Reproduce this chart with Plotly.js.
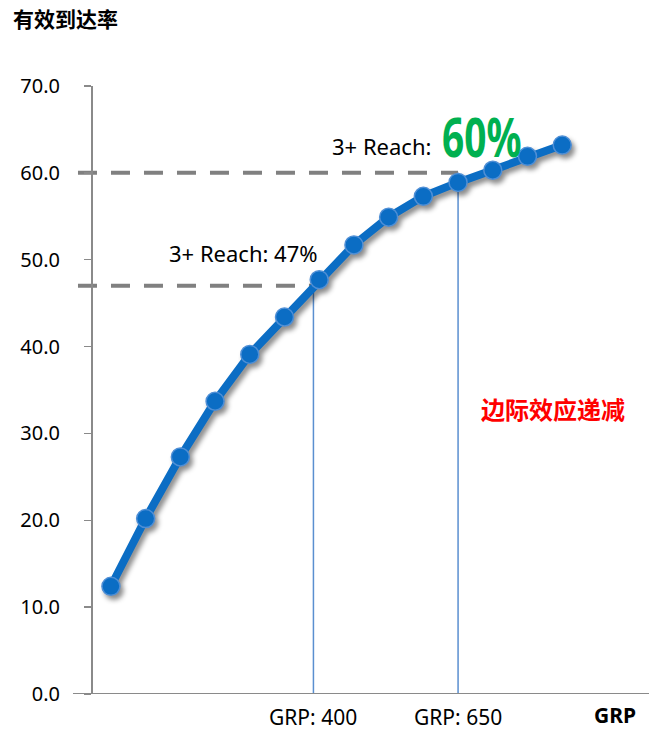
<!DOCTYPE html>
<html>
<head>
<meta charset="utf-8">
<script src="https://cdn.plot.ly/plotly-3.0.1.min.js"></script>
<style>
  html, body { margin: 0; padding: 0; background: #ffffff; }
  #chart { width: 649px; height: 731px; }
</style>
</head>
<body>
<div id="chart"></div>
<script>
// GRP levels of each plotted point and the 3+ reach (%) at that level
const grp = [50, 110, 170, 230, 290, 350, 410, 470, 530, 590, 650, 710, 770, 830];
const reach = [12.4, 20.2, 27.3, 33.7, 39.1, 43.4, 47.7, 51.7, 54.9, 57.3, 58.9, 60.3, 61.9, 63.2];

// Reference GRP levels called out with guide lines, and the reach they deliver
const refGrp = [400, 650];
const refReach = [47, 60];
const refGrpLabels = ['GRP: 400', 'GRP: 650'];

// Y axis ticks
const yTicks = [0, 10, 20, 30, 40, 50, 60, 70];
const yTickLabels = ['0.0', '10.0', '20.0', '30.0', '40.0', '50.0', '60.0', '70.0'];

const xRange = [19, 980];
const toPaperX = g => (g - xRange[0]) / (xRange[1] - xRange[0]);

const latin = '"Noto Sans", "Open Sans", sans-serif';
const cjk = '"Noto Sans CJK SC", "Noto Sans", sans-serif';
const axisGray = '#8a8a8a';
const curveBlue = '#0b6dc4';
const guideBlue = '#5a8fd0';
const dashGray = '#808080';

const trace = {
  type: 'scatter',
  mode: 'lines+markers',
  x: grp,
  y: reach,
  line: { color: curveBlue, width: 8 },
  marker: { size: 18, color: curveBlue, line: { color: '#4f8fd6', width: 1.5 } },
  hoverinfo: 'x+y'
};

const shapes = [];
refGrp.forEach((g, i) => {
  // horizontal dashed guide, starting just left of the y axis
  shapes.push({
    type: 'line', layer: 'below',
    xref: 'paper', yref: 'y',
    x0: -0.027, x1: toPaperX(g), y0: refReach[i], y1: refReach[i],
    line: { color: dashGray, width: 4, dash: '19px,14px' }
  });
  // vertical guide down to the GRP axis
  shapes.push({
    type: 'line', layer: 'below',
    xref: 'x', yref: 'y',
    x0: g, x1: g, y0: 0, y1: refReach[i],
    line: { color: guideBlue, width: 1.5 }
  });
});
// horizontal axis line, running a little past the y axis on the left
shapes.push({
  type: 'line', layer: 'above',
  xref: 'paper', yref: 'y',
  x0: -0.036, x1: 1, y0: 0, y1: 0,
  line: { color: axisGray, width: 2 }
});

const annotations = [];
refGrp.forEach((g, i) => {
  annotations.push({
    xref: 'x', yref: 'y', x: g, y: 0,
    yshift: -23, xanchor: 'center', yanchor: 'middle',
    text: refGrpLabels[i], showarrow: false,
    font: { family: latin, size: 21, color: '#000000' }
  });
});
annotations.push(
  {
    xref: 'x', yref: 'y', x: 412, y: 50.8,
    xanchor: 'right', yanchor: 'middle',
    text: '3+ Reach: ' + refReach[0] + '%', showarrow: false,
    font: { family: latin, size: 22, color: '#000000' }
  },
  {
    xref: 'x', yref: 'y', x: 606, y: 63.1,
    xanchor: 'right', yanchor: 'middle',
    text: '3+ Reach:', showarrow: false,
    font: { family: latin, size: 22, color: '#000000' }
  },
  {
    name: 'bigReach',
    xref: 'x', yref: 'y', x: 618, y: 64.3,
    xanchor: 'left', yanchor: 'middle',
    text: '<b>' + refReach[1] + '%</b>', showarrow: false,
    font: { family: latin, size: 54, color: '#00b050' }
  },
  {
    xref: 'x', yref: 'y', x: 814, y: 32.9,
    xanchor: 'center', yanchor: 'middle',
    text: '<b>边际效应递减</b>', showarrow: false,
    font: { family: cjk, size: 24, color: '#ff0000' }
  },
  {
    xref: 'paper', yref: 'paper', x: 0.939, y: -0.061,
    xanchor: 'center', yanchor: 'bottom',
    text: '<b>GRP</b>', showarrow: false,
    font: { family: latin, size: 21, color: '#000000' }
  }
);

const layout = {
  width: 649,
  height: 731,
  margin: { l: 93, r: 0, t: 86, b: 37, pad: 0 },
  paper_bgcolor: '#ffffff',
  plot_bgcolor: '#ffffff',
  showlegend: false,
  title: {
    text: '<b>有效到达率</b>',
    font: { family: cjk, size: 21, color: '#000000' },
    xref: 'container', yref: 'container',
    x: 0.02, xanchor: 'left',
    y: 0.973, yanchor: 'middle'
  },
  xaxis: {
    range: xRange,
    showgrid: false, zeroline: false, showline: false,
    showticklabels: false, ticks: ''
  },
  yaxis: {
    range: [0, 70],
    tickvals: yTicks,
    ticktext: yTickLabels,
    showgrid: false, zeroline: false,
    showline: true, linecolor: axisGray, linewidth: 2,
    ticks: 'outside', ticklen: 7, tickwidth: 1.5, tickcolor: axisGray,
    ticklabelstandoff: 20,
    tickfont: { family: latin, size: 20, color: '#000000' }
  },
  shapes: shapes,
  annotations: annotations
};

Plotly.newPlot('chart', [trace], layout, { staticPlot: true, displayModeBar: false }).then(() => {
  // soft drop shadow under the reach curve
  document.querySelectorAll('.scatterlayer .trace').forEach(g => {
    g.style.filter = 'drop-shadow(3px 4px 2.5px rgba(0,0,0,0.45))';
  });
  // condense the big green percentage horizontally, keeping its left edge
  document.querySelectorAll('.annotation-text').forEach(t => {
    if (t.textContent.trim() === refReach[1] + '%') {
      const box = t.getBBox();
      const x0 = box.x;
      const prev = t.getAttribute('transform') || '';
      t.setAttribute('transform', prev + ` translate(${x0},0) scale(0.72,1) translate(${-x0},0)`);
    }
  });
});
</script>
</body>
</html>
